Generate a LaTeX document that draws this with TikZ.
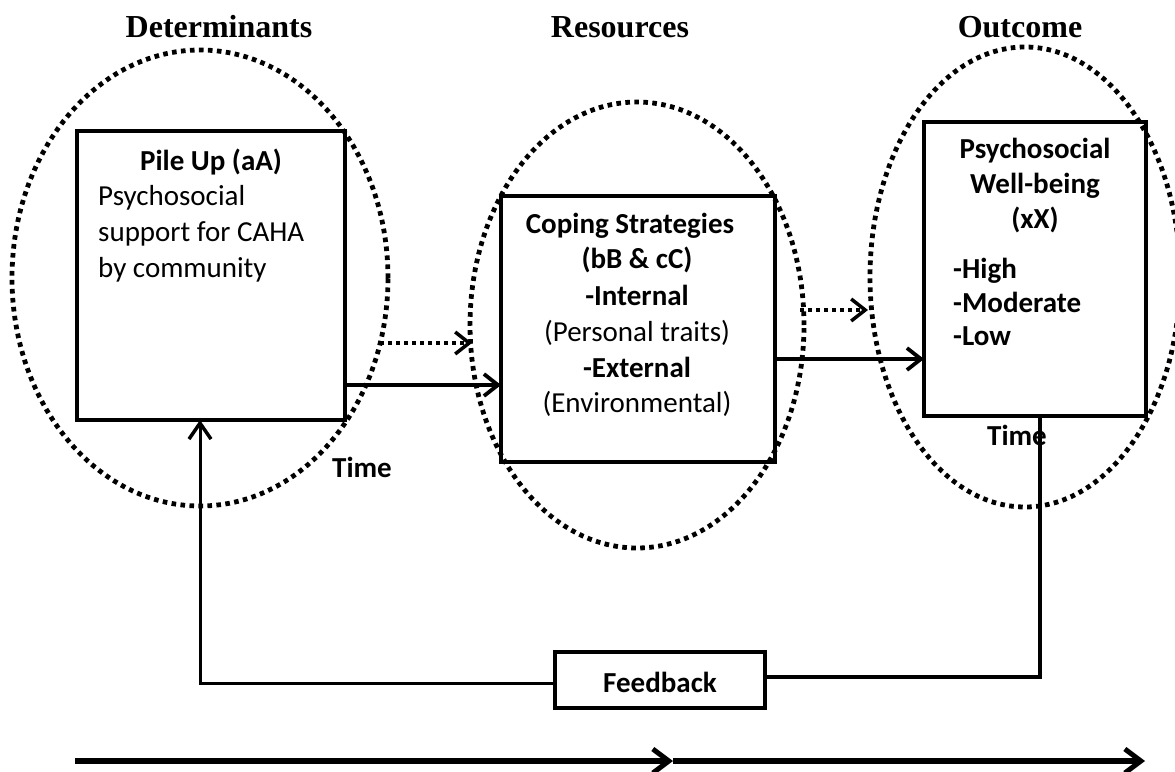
\documentclass[tikz,border=0pt]{standalone}
\usepackage{fontspec}
\setmainfont{Carlito}
\newfontfamily\headfont{Liberation Serif}
\usetikzlibrary{arrows.meta}
\begin{document}
\begin{tikzpicture}[x=1pt,y=-1pt,
  ring/.style={line width=4.8pt,dash pattern=on 4.6pt off 4.4pt},
  box/.style={draw,line width=4pt,inner sep=0pt,outer sep=0pt},
  txt/.style={inner sep=0pt,anchor=base,font=\fontsize{29}{36}\selectfont},
  txtb/.style={txt,font=\fontsize{29}{36}\selectfont\bfseries},
  head/.style={inner sep=0pt,anchor=base,font=\headfont\fontsize{32}{36}\selectfont\bfseries},
  arr/.style={line width=3.5pt,-{Straight Barb[length=14pt,width=22pt,line width=3.8pt]}},
  dotarr/.style={line width=3.8pt,dash pattern=on 3.8pt off 4.2pt,-{Straight Barb[length=14pt,width=22pt,line width=3.5pt]}},
  big/.style={line width=5.5pt,-{Straight Barb[length=16pt,width=24pt,line width=5pt]}},
  fbline/.style={line width=3.5pt}]
\useasboundingbox (0,0) rectangle (1175,771);
% dotted ellipses
\draw[ring] (200,278) ellipse [x radius=188pt, y radius=228pt];
\draw[ring] (637,325) ellipse [x radius=167pt, y radius=223pt];
\draw[ring] (1025,277) ellipse [x radius=155pt, y radius=230pt];
% boxes
\node[box,minimum width=268pt,minimum height=289pt] (box1) at (211,275.5) {};
\node[box,minimum width=274pt,minimum height=266pt] (box2) at (638,329) {};
\node[box,minimum width=222pt,minimum height=294pt] (box3) at (1035,269) {};
\node[box,line width=3.5pt,minimum width=210pt,minimum height=56pt] (fb) at (660,680) {};
\node[txtb] (fbt) at (660,692) {Feedback};
% headings
\node[head] (h1) at (219,37) {Determinants};
\node[head] (h2) at (620,37) {Resources};
\node[head] (h3) at (1020,37) {Outcome};
% box 1 text
\node[txtb] (p1) at (211,170) {Pile Up (aA)};
\node[txt,anchor=base west] (p2) at (98,205) {Psychosocial};
\node[txt,anchor=base west] (p3) at (98,241) {support for CAHA};
\node[txt,anchor=base west] (p4) at (98,277) {by community};
% box 2 text
\node[txtb] (c1) at (630,233) {Coping Strategies};
\node[txtb] (c2) at (637,268) {(bB \& cC)};
\node[txtb] (c3) at (637,305) {-Internal};
\node[txt] (c4) at (637,341) {(Personal traits)};
\node[txtb] (c5) at (637,377) {-External};
\node[txt] (c6) at (637,412) {(Environmental)};
% box 3 text
\node[txtb] (o1) at (1035,158) {Psychosocial};
\node[txtb] (o2) at (1035,193) {Well-being};
\node[txtb] (o3) at (1035,228) {(xX)};
\node[txtb,anchor=base west] (o4) at (953,278) {-High};
\node[txtb,anchor=base west] (o5) at (953,312) {-Moderate};
\node[txtb,anchor=base west] (o6) at (953,345) {-Low};
% time labels
\node[txtb] (time1) at (362,477) {Time};
\node[txtb] (time2) at (1017,445) {Time};
% arrows between stages
\coordinate (d1s) at (380,343); \coordinate (d1e) at (472,343);
\draw[dotarr] (d1s) -- (d1e);
\coordinate (d2s) at (800,310); \coordinate (d2e) at (868,310);
\draw[dotarr] (d2s) -- (d2e);
\coordinate (r1) at (0,385);
\draw[arr] (box1.east |- r1) -- (box2.west |- r1);
\coordinate (r2) at (0,359);
\draw[arr] (box2.east |- r2) -- (box3.west |- r2);
% feedback loop
\coordinate (fr) at (1040,677);
\coordinate (fl) at (200,683);
\draw[fbline] (box3.south -| fr) -- (fr) -- (fb.east |- fr);
\draw[line width=3pt,-{Straight Barb[length=16pt,width=22pt,line width=3.5pt]}] (fb.west |- fl) -- (fl) -- (fl |- box1.south);
% time axis
\coordinate (t0) at (75,761); \coordinate (t1) at (673,761); \coordinate (t2) at (1145,761);
\draw[big] (t0) -- (t1);
\draw[big] (t1) -- (t2);
\end{tikzpicture}
\end{document}
